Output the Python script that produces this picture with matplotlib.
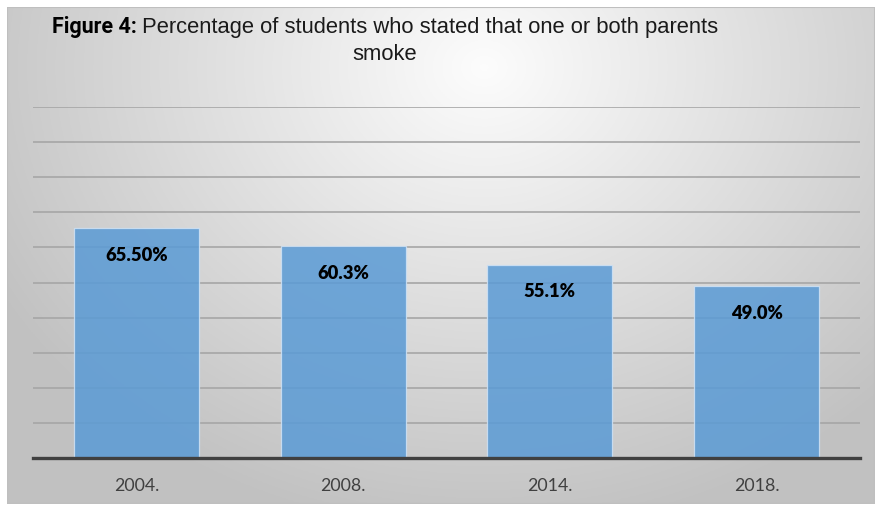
import numpy as np
import matplotlib
matplotlib.use("Agg")
import matplotlib.pyplot as plt

# survey years and share of students reporting a smoking parent
years = ["2004.", "2008.", "2014.", "2018."]
share = [65.5, 60.3, 55.1, 49.0]
labels = ["65.50%", "60.3%", "55.1%", "49.0%"]

W, H = 875, 506
fig = plt.figure(figsize=(W / 100, H / 100), dpi=100)
fig.patch.set_facecolor("white")

# grey radial gradient behind the chart
bg = fig.add_axes([7 / W, 1 - 505 / H, (W - 7) / W, (505 - 8) / H])
gx, gy = np.meshgrid(np.linspace(0, 1, 400), np.linspace(0, 1, 240))
r = np.sqrt(((gx - 0.55) / 0.75) ** 2 + ((gy - 0.12) / 1.1) ** 2)
shade = np.clip(0.99 - 0.27 * r, 0.76, 0.99)
bg.imshow(np.dstack([shade] * 3), aspect="auto", extent=[0, 1, 1, 0])
bg.set_xlim(0, 1)
bg.set_ylim(1, 0)
bg.axis("off")
bg.add_patch(plt.Rectangle((0, 0), 1, 1, fill=False, ec="#bfbfbf", lw=1.5,
                           transform=bg.transAxes))

ax = fig.add_axes([33 / W, 1 - 459 / H, (860 - 33) / W, (459 - 108) / H])
ax.set_facecolor("none")

x = np.arange(len(years))
bars = ax.bar(x, share, width=0.605, color="#5b9bd5", alpha=0.86,
              edgecolor="#cfe2f5", linewidth=0.9, zorder=2)

for b, lab in zip(bars, labels):
    ax.annotate(lab, (b.get_x() + b.get_width() / 2, b.get_height()),
                xytext=(0, -19), textcoords="offset points",
                ha="center", va="center", fontsize=13.2, fontweight="heavy",
                family="Lato", color="black", zorder=3)

ax.set_xlim(-0.5, 3.5)
ax.set_ylim(0, 100)
ax.set_yticks(np.arange(10, 101, 10))
ax.yaxis.grid(True, color="#a6a6a6", linewidth=1.2, zorder=1)
ax.set_axisbelow(True)
ax.tick_params(axis="y", left=False, labelleft=False)
ax.set_xticks(x)
ax.set_xticklabels(years, family="Lato", fontsize=12.8, color="#404040")
ax.tick_params(axis="x", length=0, pad=14)
for s in ["top", "left", "right"]:
    ax.spines[s].set_visible(False)
ax.spines["bottom"].set_color("#404040")
ax.spines["bottom"].set_linewidth(2.4)

# two-line title, first line starts with a bold "Figure 4:"
cx = 385 / W
head = fig.text(0, 1 - 33 / H, "Figure 4:", family="Roboto", fontweight="bold",
                fontsize=15.5, color="black", va="baseline")
rest = fig.text(0, 1 - 33 / H, " Percentage of students who stated that one or both parents",
                family="Liberation Sans", fontsize=15.8, color="#1a1a1a", va="baseline")
fig.canvas.draw()
rend = fig.canvas.get_renderer()
w1 = head.get_window_extent(rend).width
w2 = rest.get_window_extent(rend).width
x0 = cx * W - (w1 + w2) / 2
head.set_x(x0 / W)
rest.set_x((x0 + w1) / W)
fig.text(cx, 1 - 60 / H, "smoke", family="Liberation Sans", fontsize=15.8,
         color="#1a1a1a", ha="center", va="baseline")

fig.savefig("out.png", dpi=100)
